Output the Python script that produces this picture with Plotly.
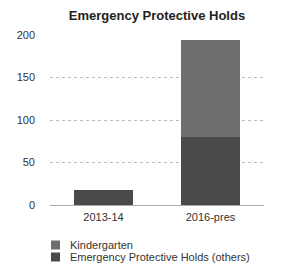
import plotly.graph_objects as go

categories = ["2013-14", "2016-pres"]
others = [18, 80]
kindergarten = [0, 114]
y_ticks = [0, 50, 100, 150, 200]
series_names = ["Kindergarten", "Emergency Protective Holds (others)"]
series_colors = ["#6e6e6e", "#4a4a4a"]

fig = go.Figure()
fig.add_trace(go.Bar(x=categories, y=others, name=series_names[1],
                     marker=dict(color=series_colors[1], line=dict(width=0)), showlegend=False))
fig.add_trace(go.Bar(x=categories, y=kindergarten, name=series_names[0],
                     marker=dict(color=series_colors[0], line=dict(width=0)), showlegend=False))

OFF = 8  # page body margin offset
W, H = 291, 268
L, R, T, B = 50 - OFF, 27 + OFF, 35 - OFF, 63 + OFF
pw, ph = W - L - R, H - T - B

def px_to_paper_x(px):
    return (px - OFF - L) / pw

def px_to_paper_y(py):
    return (H - B - (py - OFF)) / ph

# compact legend
for i, (name, col) in enumerate(zip(series_names, series_colors)):
    cy = 245 + 12 * i
    fig.add_shape(type="rect", xref="paper", yref="paper",
                  x0=px_to_paper_x(51), x1=px_to_paper_x(60),
                  y0=px_to_paper_y(cy - 4.5), y1=px_to_paper_y(cy + 4.5),
                  fillcolor=col, line=dict(width=0))
    fig.add_annotation(text=name, xref="paper", yref="paper",
                       x=px_to_paper_x(68), y=px_to_paper_y(cy), xanchor="left", yanchor="middle",
                       showarrow=False, font=dict(size=11, color="#333333"))

fig.update_layout(
    width=W, height=H,
    margin=dict(l=L, r=R, t=T, b=B, autoexpand=False),
    barmode="stack", bargap=0.44,
    paper_bgcolor="white", plot_bgcolor="white",
    font=dict(family="Liberation Sans, Arial, sans-serif", size=11, color="#333333"),
    title=dict(text="<b>Emergency Protective Holds</b>", x=(157 - OFF) / W, xanchor="center",
               y=1 - (15 - OFF) / H, yanchor="middle",
               font=dict(size=13, color="#222222", family="Liberation Sans, Arial, sans-serif")),
    showlegend=False,
)
fig.update_xaxes(showgrid=False, showline=False, ticks="", tickfont=dict(size=11, color="#333333"),
                 ticklabelstandoff=4)
fig.update_yaxes(range=[0, 200], tickvals=y_ticks, showgrid=True, gridcolor="#bbbbbb", griddash="dot",
                 gridwidth=1, zeroline=True, zerolinecolor="#aaaaaa", zerolinewidth=1,
                 showline=False, ticks="", ticklabelstandoff=14, tickfont=dict(size=11, color="#333333"))

fig.write_html("out.html")
